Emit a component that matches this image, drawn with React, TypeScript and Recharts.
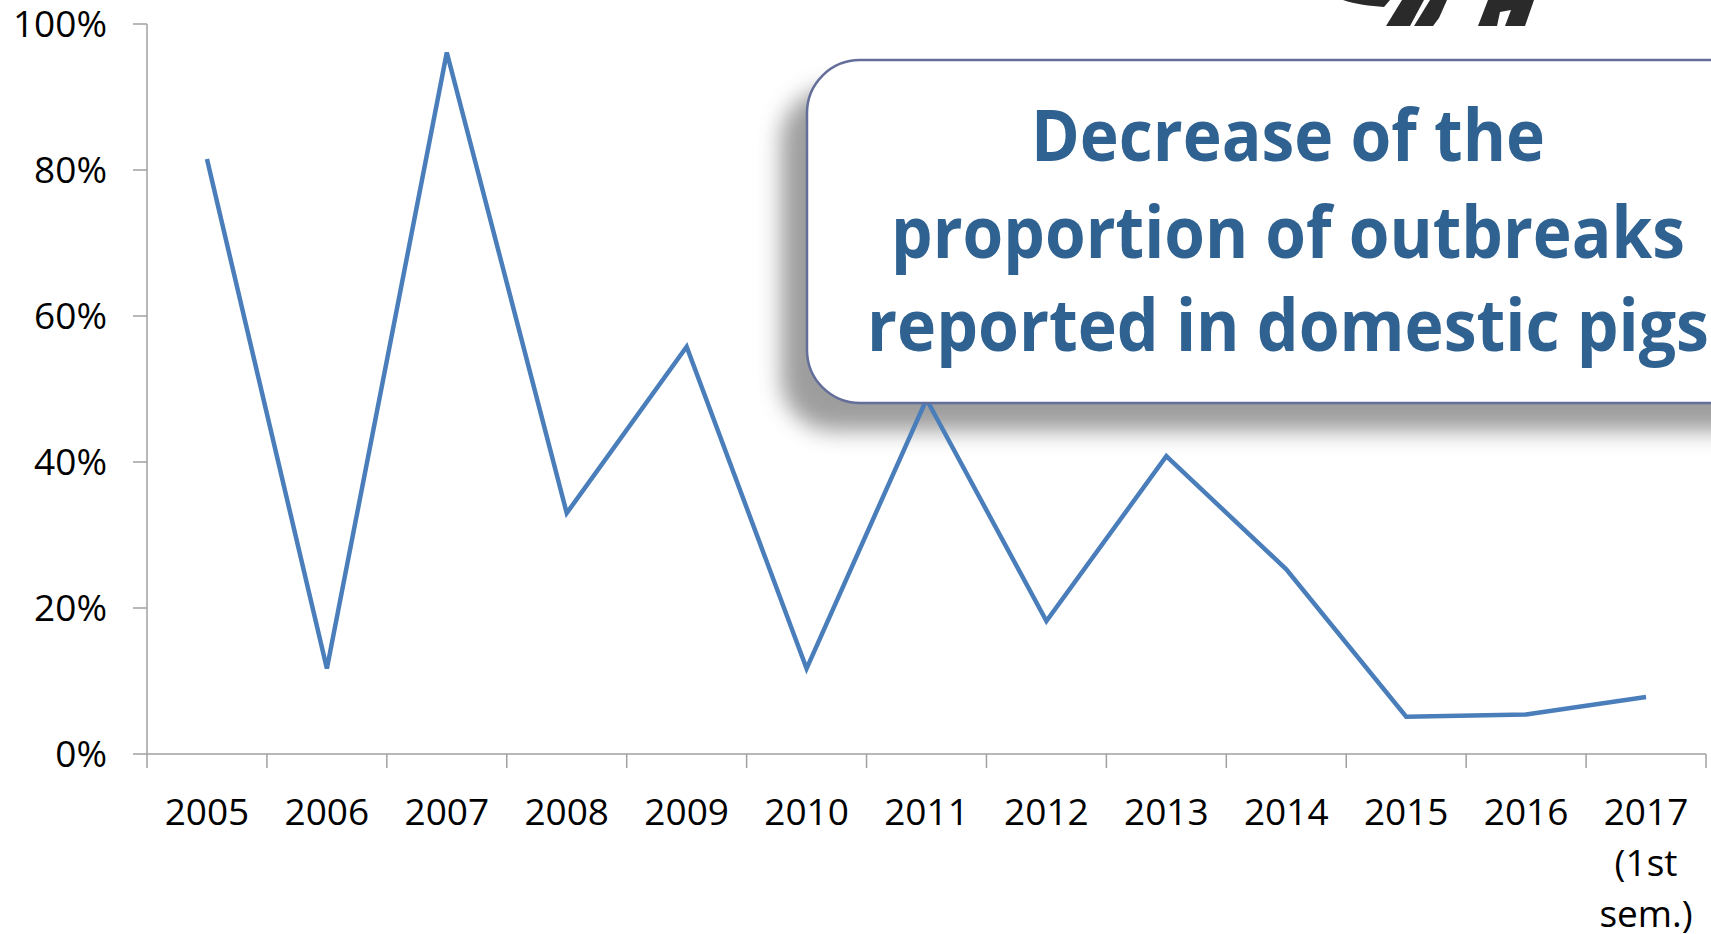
import React from 'react';
import { LineChart, Line, XAxis, YAxis } from 'recharts';

const years = ['2005', '2006', '2007', '2008', '2009', '2010', '2011', '2012', '2013', '2014', '2015', '2016', '2017\n(1st\nsem.)'];
const proportion = [0.815, 0.117, 0.961, 0.330, 0.558, 0.117, 0.486, 0.182, 0.408, 0.253, 0.051, 0.054, 0.078];
const yTicks = [0, 0.2, 0.4, 0.6, 0.8, 1];
const titleLines = ['Decrease of the', 'proportion of outbreaks', 'reported in domestic pigs'];

const data = years.map((y, i) => ({ year: y, value: proportion[i] }));

const W = 1711;
const H = 934;
const PLOT_LEFT = 147;
const PLOT_RIGHT = 1706;
const PLOT_BOTTOM = 754;
const BAND = (PLOT_RIGHT - PLOT_LEFT) / years.length;
const FONT = "'Open Sans', sans-serif";

const XTick = (props: any) => {
  const { x, payload, index } = props;
  const lines = String(payload.value).split('\n');
  return (
    <g>
      <line x1={x - BAND / 2} x2={x - BAND / 2} y1={PLOT_BOTTOM} y2={PLOT_BOTTOM + 14} stroke="#a0a0a0" strokeWidth={1.5} />
      {index === years.length - 1 && (
        <line x1={x + BAND / 2} x2={x + BAND / 2} y1={PLOT_BOTTOM} y2={PLOT_BOTTOM + 14} stroke="#a0a0a0" strokeWidth={1.5} />
      )}
      <text x={x} y={PLOT_BOTTOM + 71} textAnchor="middle" fontFamily={FONT} fontSize={37} fill="#000">
        {lines.map((l, i) => (
          <tspan key={i} x={x} dy={i === 0 ? 0 : 51}>{l}</tspan>
        ))}
      </text>
    </g>
  );
};

export default function App() {
  const abs: React.CSSProperties = { position: 'absolute', left: 0, top: 0, width: W, height: H };
  return (
    <div style={{ position: 'absolute', left: 0, top: 0, width: W, height: H, background: '#fff', overflow: 'hidden' }}>
      <svg style={abs} width={W} height={H}>
        <defs>
          <filter id="shblur" x="-20%" y="-30%" width="140%" height="160%">
            <feGaussianBlur stdDeviation={11} />
          </filter>
        </defs>
        <rect x={807 - 26} y={60 + 28} width={1000} height={343} rx={53} fill="#858585" opacity={0.8} filter="url(#shblur)" />
      </svg>
      <div style={abs}>
        <LineChart width={W} height={H} data={data} margin={{ top: 24, right: W - PLOT_RIGHT, bottom: 0, left: 0 }}>
          <XAxis
            dataKey="year"
            height={H - PLOT_BOTTOM}
            interval={0}
            padding={{ left: BAND / 2, right: BAND / 2 }}
            axisLine={{ stroke: '#a0a0a0', strokeWidth: 1.5 }}
            tickLine={false}
            tickSize={14}
            tickMargin={0}
            tick={<XTick />}
          />
          <YAxis
            width={PLOT_LEFT}
            domain={[0, 1]}
            ticks={yTicks}
            interval={0}
            tickFormatter={(v: number) => `${Math.round(v * 100)}%`}
            axisLine={{ stroke: '#a0a0a0', strokeWidth: 1.5 }}
            tickLine={{ stroke: '#a0a0a0', strokeWidth: 1.5 }}
            tickSize={14}
            tickMargin={26}
            tick={{ fontFamily: FONT, fontSize: 37, fill: '#000' }}
          />
          <Line type="linear" dataKey="value" stroke="#4a7ebb" strokeWidth={4.5} dot={false} isAnimationActive={false} />
        </LineChart>
      </div>
      <svg style={abs} width={W} height={H}>
        <g fill="#2a2a2a">
          <path d="M1343,0 L1390,0 L1384,7 C1370,6 1355,4 1343,0 Z" />
          <polygon points="1402,0 1424,0 1410,26 1386,26" />
          <polygon points="1430,0 1447,0 1439,18 1433,26 1414,26" />
          <polygon points="1488,0 1534,0 1525,26 1505,26 1511,10 1500,12 1497,26 1478,26" />
        </g>
        <rect x={807} y={60} width={1000} height={343} rx={53} fill="#fff" stroke="#646e9a" strokeWidth={2.5} />
        {titleLines.map((t, i) => (
          <text
            key={i}
            x={1288}
            y={[161, 258, 351][i]}
            textAnchor="middle"
            fontFamily={FONT}
            fontWeight={700}
            fontSize={72}
            fill="#2f6290"
            textLength={[514, 794, 842][i]}
            lengthAdjust="spacingAndGlyphs"
          >
            {t}
          </text>
        ))}
      </svg>
    </div>
  );
}
